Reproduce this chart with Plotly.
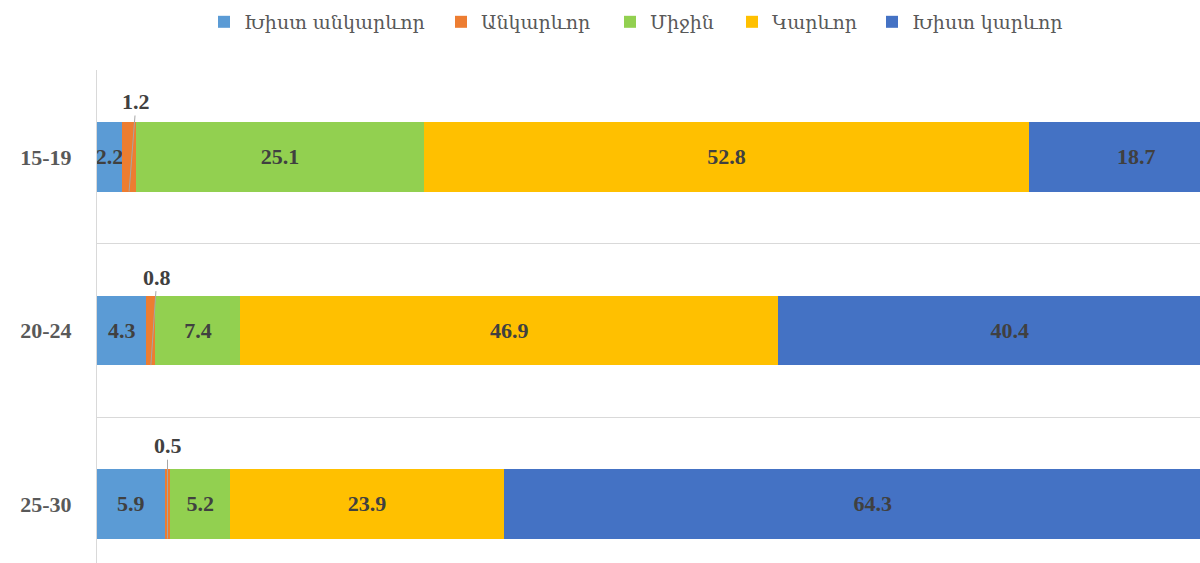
import plotly.graph_objects as go

groups = ["15-19", "20-24", "25-30"]
series = ["Խիստ անկարևոր", "Անկարևոր", "Միջին", "Կարևոր", "Խիստ կարևոր"]
very_unimportant = [2.2, 4.3, 5.9]
unimportant = [1.2, 0.8, 0.5]
medium = [25.1, 7.4, 5.2]
important = [52.8, 46.9, 23.9]
very_important = [18.7, 40.4, 64.3]

values = [very_unimportant, unimportant, medium, important, very_important]
colors = ["#5B9BD5", "#ED7D31", "#92D050", "#FFC000", "#4472C4"]
legend_left = [217, 454, 623, 745, 885]  # px where each legend square starts

ypos = [2, 1, 0]  # 15-19 on top
label_font = dict(family="Liberation Serif", size=22, color="#404040", weight="bold")

fig = go.Figure()
for i, (name, vals, col) in enumerate(zip(series, values, colors)):
    small = name == "Անկարևոր"
    fig.add_trace(go.Bar(
        y=ypos, x=vals, name=name, orientation="h",
        marker=dict(color=col, line=dict(width=0)),
        text=None if small else [str(v) for v in vals],
        textposition="inside", insidetextanchor="middle",
        constraintext="none", textangle=0,
        textfont=label_font,
        hoverinfo="name+x",
        legend="legend" if i == 0 else "legend%d" % (i + 1),
    ))

# leader-line labels for the thin orange segments
offsets = [(7, -90), (6, -88), (0, -93)]
for y, base, v, (ax, ay) in zip(ypos, very_unimportant, unimportant, offsets):
    fig.add_annotation(
        x=base + v / 2, y=y - 0.2, xref="x", yref="y",
        text="<b>%s</b>" % v, showarrow=True, arrowhead=0, arrowwidth=1,
        arrowcolor="#a6a6a6", ax=ax, ay=ay,
        font=dict(family="Liberation Serif", size=22, color="#404040"),
    )

legends = {}
for i, px in enumerate(legend_left):
    key = "legend" if i == 0 else "legend%d" % (i + 1)
    legends[key] = dict(
        orientation="h", x=(px - 13) / 1200, xanchor="left", xref="container",
        y=0.961, yanchor="middle", yref="container",
        font=dict(family="DejaVu Serif", size=19, color="#595959"),
        itemwidth=30, bgcolor="rgba(0,0,0,0)",
    )

fig.update_layout(
    width=1200, height=563,
    margin=dict(l=97, r=0, t=70, b=0),
    plot_bgcolor="white", paper_bgcolor="white",
    barmode="stack", bargap=0.6,
    showlegend=True,
    xaxis=dict(range=[0, 96.2], visible=False),
    yaxis=dict(
        range=[-0.34, 2.5], tickvals=ypos, ticktext=groups,
        showgrid=False, zeroline=False,
        showline=True, linecolor="#d9d9d9", linewidth=1,
        ticks="", ticklabelstandoff=20,
        tickfont=dict(family="Liberation Serif", size=22, color="#595959", weight="bold"),
        minor=dict(tick0=0.5, dtick=1, showgrid=True, gridcolor="#d9d9d9", gridwidth=1),
    ),
    **legends,
)

fig.write_html("out.html", config={"displayModeBar": False},
               post_script="document.body.style.margin='0';")
